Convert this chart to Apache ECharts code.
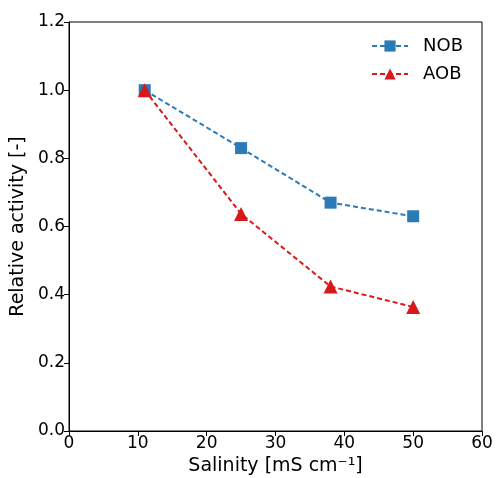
<!DOCTYPE html>
<html><head><meta charset="utf-8">
<script src="https://cdn.jsdelivr.net/npm/echarts@6/dist/echarts.min.js"></script>
<style>html,body{margin:0;padding:0;background:#fff}#c{width:497px;height:478px}</style>
</head><body><div id="c"></div>
<script>
const salinity = [11, 25, 38, 50];
const nob = [1.0, 0.83, 0.67, 0.63];
const aob = [1.0, 0.637, 0.424, 0.364];
const xTicks = [0, 10, 20, 30, 40, 50, 60];
const yTicks = [0.0, 0.2, 0.4, 0.6, 0.8, 1.0, 1.2];

const font = 'DejaVu Sans';
const chart = echarts.init(document.getElementById('c'), null, {renderer: 'canvas'});
chart.setOption({
  animation: false,
  backgroundColor: '#fff',
  grid: {left: 69, right: 15, top: 22, bottom: 47, outerBoundsMode: 'none', containLabel: false,
         show: true, borderColor: '#000', borderWidth: 1, backgroundColor: 'transparent'},
  legend: {
    right: 29, top: 32, orient: 'vertical', itemGap: 10, itemWidth: 36, itemHeight: 14,
    textStyle: {fontFamily: font, fontSize: 18, color: '#000', padding: [0, 0, 0, 10]},
    data: ['NOB', 'AOB']
  },
  xAxis: {
    type: 'value', min: 0, max: 60, interval: 10,
    axisLine: {show: true, lineStyle: {color: '#000', width: 1}},
    axisTick: {show: true, inside: false, length: 5, lineStyle: {color: '#000'}},
    axisLabel: {fontFamily: font, fontSize: 17, color: '#000', margin: 4, formatter: v => xTicks.includes(v) ? String(v) : ''},
    splitLine: {show: false},
    name: 'Salinity [mS cm\u207B\u00B9]', nameLocation: 'middle', nameGap: 26,
    nameTextStyle: {fontFamily: font, fontSize: 19, color: '#000'}
  },
  yAxis: {
    type: 'value', min: 0, max: 1.2, interval: 0.2,
    axisLine: {show: true, lineStyle: {color: '#000', width: 1}},
    axisTick: {show: true, inside: false, length: 5, lineStyle: {color: '#000'}},
    axisLabel: {fontFamily: font, fontSize: 17, color: '#000', margin: 4, formatter: v => v.toFixed(1)},
    splitLine: {show: false},
    name: 'Relative activity [-]', nameLocation: 'middle', nameGap: 39,
    nameTextStyle: {fontFamily: font, fontSize: 19, color: '#000'}
  },
  series: [
    {
      name: 'NOB', type: 'line', data: salinity.map((x, i) => [x, nob[i]]),
      symbol: 'rect', symbolSize: 12,
      lineStyle: {color: '#2c7bb6', width: 2, type: [5, 3]},
      itemStyle: {color: '#2c7bb6'}
    },
    {
      name: 'AOB', type: 'line', data: salinity.map((x, i) => [x, aob[i]]),
      symbol: 'triangle', symbolSize: 14,
      lineStyle: {color: '#d7191c', width: 2, type: [5, 3]},
      itemStyle: {color: '#d7191c'}
    }
  ]
});
</script></body></html>
